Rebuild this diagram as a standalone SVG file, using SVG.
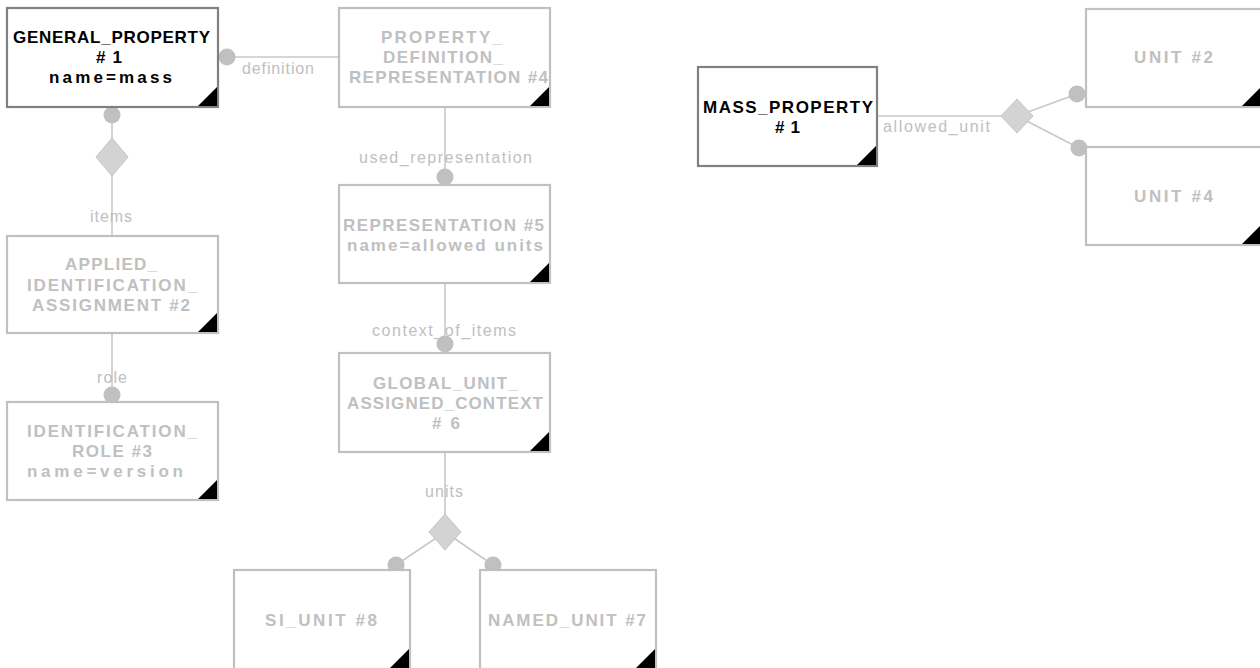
<svg xmlns="http://www.w3.org/2000/svg" width="1260" height="668" viewBox="0 0 1260 668">
<style>
.box{fill:#fff;stroke:#c0c0c0;stroke-width:2.2}
.box.act{stroke:#808080}
.tri{fill:#000}
.nt{font-family:"Liberation Sans",Arial,sans-serif;font-size:17px;font-weight:bold;fill:#c0c0c0}
.nt.act{fill:#000}
.lk{stroke:#c8c8c8;stroke-width:1.6;fill:none}
.dot{fill:#c0c0c0}
.dia{fill:#d3d3d3;stroke:#c4c4c4;stroke-width:1}
.lb{font-family:"Liberation Sans",Arial,sans-serif;font-size:16px;fill:#c0c0c0}
</style>
<rect width="1260" height="668" fill="#fff"/>
<g id="connectors">
<line class="lk" x1="218" y1="57" x2="339" y2="57"/>
<circle class="dot" cx="227" cy="57" r="8.5"/>
<text class="lb" x="242" y="74" textLength="72" lengthAdjust="spacing">definition</text>
<line class="lk" x1="445" y1="107" x2="445" y2="185"/>
<circle class="dot" cx="445" cy="177" r="8.5"/>
<text class="lb" x="359" y="163" textLength="173" lengthAdjust="spacing">used_representation</text>
<line class="lk" x1="112" y1="107" x2="112" y2="236"/>
<circle class="dot" cx="112" cy="115" r="8.5"/>
<polygon class="dia" points="112,138 128,157 112,176 96,157"/>
<text class="lb" x="90" y="222" textLength="42" lengthAdjust="spacing">items</text>
<line class="lk" x1="112" y1="333" x2="112" y2="402"/>
<circle class="dot" cx="112" cy="395" r="8.5"/>
<text class="lb" x="97" y="383" textLength="30" lengthAdjust="spacing">role</text>
<line class="lk" x1="445" y1="283" x2="445" y2="353"/>
<circle class="dot" cx="445" cy="344" r="8.5"/>
<text class="lb" x="372" y="336" textLength="144" lengthAdjust="spacing">context_of_items</text>
<line class="lk" x1="445" y1="452" x2="445" y2="532"/>
<line class="lk" x1="445" y1="532" x2="396" y2="565"/>
<line class="lk" x1="445" y1="532" x2="493" y2="565"/>
<polygon class="dia" points="445,514 461,532 445,550 429,532"/>
<circle class="dot" cx="396" cy="565" r="8.5"/>
<circle class="dot" cx="493" cy="565" r="8.5"/>
<text class="lb" x="425" y="497" textLength="38" lengthAdjust="spacing">units</text>
<line class="lk" x1="877" y1="116" x2="1017" y2="116"/>
<line class="lk" x1="1017" y1="116" x2="1077" y2="94"/>
<line class="lk" x1="1017" y1="116" x2="1079" y2="148"/>
<polygon class="dia" points="1017,99 1033,116 1017,133 1001,116"/>
<circle class="dot" cx="1077" cy="94" r="8.5"/>
<circle class="dot" cx="1079" cy="148" r="8.5"/>
<text class="lb" x="883" y="132" textLength="107" lengthAdjust="spacing">allowed_unit</text>
</g>
<g id="general_property_1">
<rect class="box act" x="7" y="8" width="211" height="99"/>
<polygon class="tri" points="198,106 217,106 217,87"/>
<text class="nt act" x="13" y="43" textLength="197" lengthAdjust="spacing">GENERAL_PROPERTY</text>
<text class="nt act" x="96" y="63" textLength="26" lengthAdjust="spacing">#1</text>
<text class="nt act" x="49" y="83" textLength="123" lengthAdjust="spacing">name=mass</text>
</g>
<g id="property_definition_representation_4">
<rect class="box" x="339" y="8" width="211" height="99"/>
<polygon class="tri" points="530,106 549,106 549,87"/>
<text class="nt" x="381" y="43" textLength="121" lengthAdjust="spacing">PROPERTY_</text>
<text class="nt" x="383" y="63" textLength="120" lengthAdjust="spacing">DEFINITION_</text>
<text class="nt" x="349" y="83" textLength="199" lengthAdjust="spacing">REPRESENTATION #4</text>
</g>
<g id="applied_identification_assignment_2">
<rect class="box" x="7" y="236" width="211" height="97"/>
<polygon class="tri" points="198,332 217,332 217,313"/>
<text class="nt" x="65" y="270" textLength="92" lengthAdjust="spacing">APPLIED_</text>
<text class="nt" x="27" y="291" textLength="170" lengthAdjust="spacing">IDENTIFICATION_</text>
<text class="nt" x="32" y="311" textLength="158" lengthAdjust="spacing">ASSIGNMENT #2</text>
</g>
<g id="identification_role_3">
<rect class="box" x="7" y="402" width="211" height="98"/>
<polygon class="tri" points="198,499 217,499 217,480"/>
<text class="nt" x="27" y="437" textLength="170" lengthAdjust="spacing">IDENTIFICATION_</text>
<text class="nt" x="72" y="457" textLength="80" lengthAdjust="spacing">ROLE #3</text>
<text class="nt" x="27" y="477" textLength="156" lengthAdjust="spacing">name=version</text>
</g>
<g id="representation_5">
<rect class="box" x="339" y="185" width="211" height="98"/>
<polygon class="tri" points="530,282 549,282 549,263"/>
<text class="nt" x="343" y="231" textLength="201" lengthAdjust="spacing">REPRESENTATION #5</text>
<text class="nt" x="347" y="251" textLength="196" lengthAdjust="spacing">name=allowed units</text>
</g>
<g id="global_unit_assigned_context_6">
<rect class="box" x="339" y="353" width="211" height="99"/>
<polygon class="tri" points="530,451 549,451 549,432"/>
<text class="nt" x="373" y="389" textLength="145" lengthAdjust="spacing">GLOBAL_UNIT_</text>
<text class="nt" x="347" y="409" textLength="196" lengthAdjust="spacing">ASSIGNED_CONTEXT</text>
<text class="nt" x="432" y="429" textLength="28" lengthAdjust="spacing">#6</text>
</g>
<g id="si_unit_8">
<rect class="box" x="234" y="570" width="176" height="99"/>
<polygon class="tri" points="390,668 409,668 409,649"/>
<text class="nt" x="265" y="626" textLength="112" lengthAdjust="spacing">SI_UNIT #8</text>
</g>
<g id="named_unit_7">
<rect class="box" x="480" y="570" width="176" height="99"/>
<polygon class="tri" points="636,668 655,668 655,649"/>
<text class="nt" x="488" y="626" textLength="158" lengthAdjust="spacing">NAMED_UNIT #7</text>
</g>
<g id="mass_property_1">
<rect class="box act" x="698" y="67" width="179" height="99"/>
<polygon class="tri" points="857,165 876,165 876,146"/>
<text class="nt act" x="703" y="113" textLength="170" lengthAdjust="spacing">MASS_PROPERTY</text>
<text class="nt act" x="775" y="133" textLength="25" lengthAdjust="spacing">#1</text>
</g>
<g id="unit_2">
<rect class="box" x="1086" y="9" width="176" height="98"/>
<polygon class="tri" points="1242,106 1261,106 1261,87"/>
<text class="nt" x="1134" y="63" textLength="79" lengthAdjust="spacing">UNIT #2</text>
</g>
<g id="unit_4">
<rect class="box" x="1086" y="147" width="176" height="98"/>
<polygon class="tri" points="1242,244 1261,244 1261,225"/>
<text class="nt" x="1134" y="202" textLength="79" lengthAdjust="spacing">UNIT #4</text>
</g>
</svg>
